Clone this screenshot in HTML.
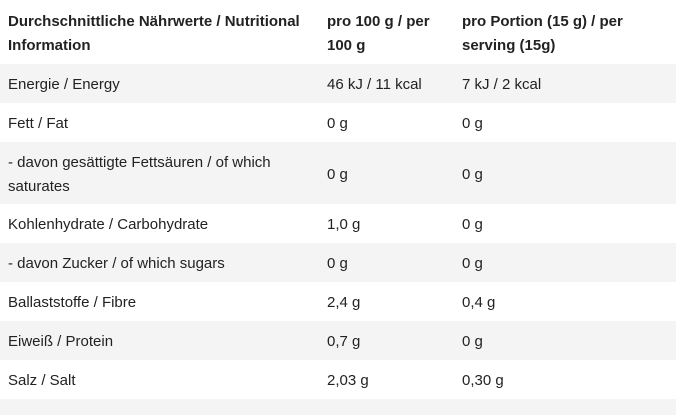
<!DOCTYPE html>
<html><head><style>
body{margin:0;width:676px;height:415px;background:#fff;font-family:"Liberation Sans",sans-serif;font-size:15px;color:#222;position:relative;overflow:hidden}
.r{position:absolute;left:0;width:676px}
.g{background:#f4f4f4}
.t{position:absolute;line-height:24px;white-space:nowrap}
.b{font-weight:bold}
</style></head><body>
<div class="r g" style="top:64px;height:39px"></div>
<div class="r g" style="top:142px;height:62px"></div>
<div class="r g" style="top:243px;height:39px"></div>
<div class="r g" style="top:321px;height:39px"></div>
<div class="r g" style="top:399px;height:16px"></div>

<div class="t b" style="left:8px;top:10px">Durchschnittliche Nährwerte / Nutritional<br>Information</div>
<div class="t b" style="left:327px;top:10px">pro 100 g / per<br>100 g</div>
<div class="t b" style="left:462px;top:10px">pro Portion (15 g) / per<br>serving (15g)</div>

<div class="t" style="left:8px;top:73px">Energie / Energy</div>
<div class="t" style="left:327px;top:73px">46 kJ / 11 kcal</div>
<div class="t" style="left:462px;top:73px">7 kJ / 2 kcal</div>

<div class="t" style="left:8px;top:112px">Fett / Fat</div>
<div class="t" style="left:327px;top:112px">0 g</div>
<div class="t" style="left:462px;top:112px">0 g</div>

<div class="t" style="left:8px;top:151px">- davon gesättigte Fettsäuren / of which<br>saturates</div>
<div class="t" style="left:327px;top:163px">0 g</div>
<div class="t" style="left:462px;top:163px">0 g</div>

<div class="t" style="left:8px;top:213px">Kohlenhydrate / Carbohydrate</div>
<div class="t" style="left:327px;top:213px">1,0 g</div>
<div class="t" style="left:462px;top:213px">0 g</div>

<div class="t" style="left:8px;top:252px">- davon Zucker / of which sugars</div>
<div class="t" style="left:327px;top:252px">0 g</div>
<div class="t" style="left:462px;top:252px">0 g</div>

<div class="t" style="left:8px;top:291px">Ballaststoffe / Fibre</div>
<div class="t" style="left:327px;top:291px">2,4 g</div>
<div class="t" style="left:462px;top:291px">0,4 g</div>

<div class="t" style="left:8px;top:330px">Eiweiß / Protein</div>
<div class="t" style="left:327px;top:330px">0,7 g</div>
<div class="t" style="left:462px;top:330px">0 g</div>

<div class="t" style="left:8px;top:369px">Salz / Salt</div>
<div class="t" style="left:327px;top:369px">2,03 g</div>
<div class="t" style="left:462px;top:369px">0,30 g</div>
</body></html>
